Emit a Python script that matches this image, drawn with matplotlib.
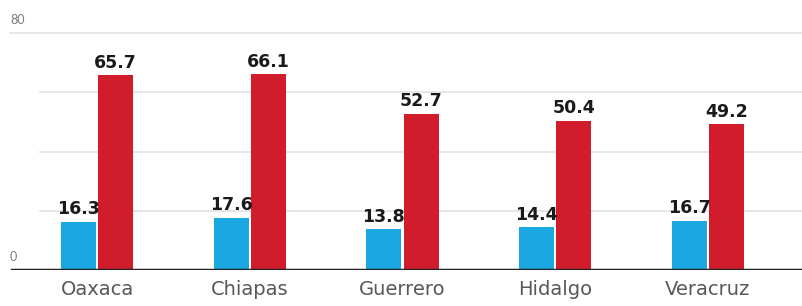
import matplotlib
matplotlib.use("Agg")
import matplotlib.pyplot as plt
import numpy as np

# data
states = ["Oaxaca", "Chiapas", "Guerrero", "Hidalgo", "Veracruz"]
blue_vals = [16.3, 17.6, 13.8, 14.4, 16.7]
red_vals = [65.7, 66.1, 52.7, 50.4, 49.2]
grid_vals = [20, 40, 60]
ytick_vals = [0, 80]

blue = "#1ba8e0"
red = "#d11c2b"

fig = plt.figure(figsize=(8.02, 3.06), dpi=100)
ax = fig.add_axes([0, 36 / 306, 1, 270 / 306])

x = np.arange(len(states))
w = 0.228
off = w / 2 + 0.008

# gridlines
for g in grid_vals:
    ax.axhline(g, xmin=40 / 802, xmax=1, color="#e2e2e2", lw=1.2, zorder=0)
ax.axhline(80, xmin=10 / 802, xmax=1, color="#e2e2e2", lw=1.2, zorder=0)

b1 = ax.bar(x - off, blue_vals, w, color=blue, zorder=2)
b2 = ax.bar(x + off, red_vals, w, color=red, zorder=2)

for rect, v in zip(list(b1) + list(b2), blue_vals + red_vals):
    ax.text(rect.get_x() + rect.get_width() / 2, v + 1.2, f"{v}",
            ha="center", va="bottom", fontsize=12.5, fontweight="bold",
            color="#1a1a1a", zorder=3)

# baseline
ax.axhline(0, xmin=12 / 802, xmax=1, color="#222222", lw=2.5, zorder=4)

# y labels sit above their lines
for t in ytick_vals:
    ax.text(10 / 802, t + 2.5, str(t), transform=ax.get_yaxis_transform(),
            ha="left", va="bottom", fontsize=9, color="#7a7a7a",
            family="Lato")

ax.set_xlim(-97 / 152.75, (802 - 97) / 152.75)
ax.set_ylim(0, 270 / 2.9625)

for xi, s in zip(x, states):
    ax.text(xi, -3.5, s, ha="center", va="top", fontsize=14,
            color="#585858", clip_on=False)

ax.axis("off")
fig.savefig("out.png", dpi=100)
